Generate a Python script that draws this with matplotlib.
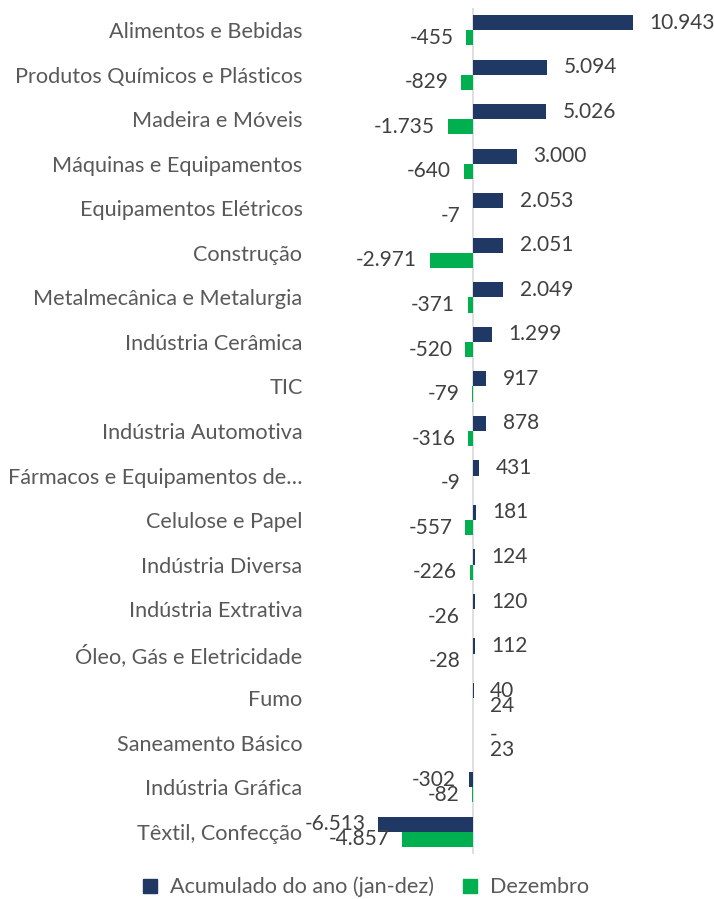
import matplotlib
matplotlib.use("Agg")
import matplotlib.pyplot as plt
from matplotlib.lines import Line2D
import numpy as np

plt.rcParams['font.family'] = ['Lato', 'DejaVu Sans']

categorias = [
    "Alimentos e Bebidas",
    "Produtos Químicos e Plásticos",
    "Madeira e Móveis",
    "Máquinas e Equipamentos",
    "Equipamentos Elétricos",
    "Construção",
    "Metalmecânica e Metalurgia",
    "Indústria Cerâmica",
    "TIC",
    "Indústria Automotiva",
    "Fármacos e Equipamentos de…",
    "Celulose e Papel",
    "Indústria Diversa",
    "Indústria Extrativa",
    "Óleo, Gás e Eletricidade",
    "Fumo",
    "Saneamento Básico",
    "Indústria Gráfica",
    "Têxtil, Confecção",
]
acumulado = [10943, 5094, 5026, 3000, 2053, 2051, 2049, 1299, 917, 878,
             431, 181, 124, 120, 112, 40, 0, -302, -6513]
dezembro = [-455, -829, -1735, -640, -7, -2971, -371, -520, -79, -316,
            -9, -557, -226, -26, -28, 24, 23, -82, -4857]

cor_acum = "#203864"
cor_dez = "#00B050"
cor_texto = "#404040"


def fmt(v):
    if v == 0:
        return "-"
    return f"{v:,}".replace(",", ".")


fig = plt.figure(figsize=(7.14, 8.99), dpi=100)
ax = fig.add_axes([315 / 714, 1 - 854 / 899, 390 / 714, 846 / 899])

y = np.arange(len(categorias))
h = 0.34
ax.barh(y - h / 2, acumulado, height=h, color=cor_acum)
ax.barh(y + h / 2, dezembro, height=h, color=cor_dez)

for yi, v in zip(y, acumulado):
    dx = 12 if v >= 0 else -9
    ax.annotate(fmt(v), (v, yi - h / 2), xytext=(dx, 0), textcoords="offset points",
                ha="left" if v >= 0 else "right", va="center",
                fontsize=15, color=cor_texto, annotation_clip=False)
for yi, v in zip(y, dezembro):
    dx = 12 if v >= 0 else -9
    ax.annotate(fmt(v), (v, yi + h / 2), xytext=(dx, 0), textcoords="offset points",
                ha="left" if v >= 0 else "right", va="center",
                fontsize=15, color=cor_texto, annotation_clip=False)

px = 0.01462
ax.set_xlim((315 - 473) / px, (705 - 473) / px)
ax.set_ylim(len(categorias) - 0.5, -0.5)
ax.axvline(0, color="#d9d9d9", lw=1.2, zorder=0)

ax.set_yticks(y)
ax.set_yticklabels(categorias, fontsize=15.6, color="#595959")
ax.tick_params(axis="y", length=0, pad=9)
ax.set_xticks([])
for s in ax.spines.values():
    s.set_visible(False)

handles = [
    Line2D([], [], marker="s", ls="", color=cor_acum, markersize=10),
    Line2D([], [], marker="s", ls="", color=cor_dez, markersize=10),
]
fig.legend(handles, ["Acumulado do ano (jan-dez)", "Dezembro"],
           loc="center", bbox_to_anchor=(0.51, 1 - 887 / 899), ncol=2,
           frameon=False, fontsize=15.6, labelcolor="#595959",
           handlelength=1.0, handletextpad=0.4, columnspacing=1.2)

fig.savefig("out.png", dpi=100)
